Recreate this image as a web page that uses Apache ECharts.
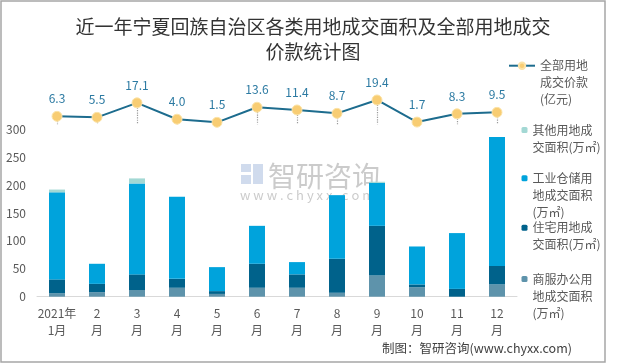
<!DOCTYPE html>
<html><head><meta charset="utf-8">
<script src="https://cdn.jsdelivr.net/npm/echarts@6/dist/echarts.min.js"></script>
<style>html,body{margin:0;padding:0;background:#fff}#c{width:620px;height:364px}</style>
</head><body><div id="c"></div>
<script>
const months = ['2021年\n1月','2\n月','3\n月','4\n月','5\n月','6\n月','7\n月','8\n月','9\n月','10\n月','11\n月','12\n月'];
const commercial = [6, 8, 12, 16, 5, 16, 16, 7, 38, 17, 0, 22];
const residential = [25, 15, 28, 16, 5, 43, 24, 61, 89, 5, 14, 33];
const industrial = [156, 36, 163, 147, 43, 68, 22, 114, 77, 68, 100, 231];
const other = [5, 0, 9, 0, 0, 0, 0, 0, 2, 0, 0, 0];
const price = [6.3, 5.5, 17.1, 4.0, 1.5, 13.6, 11.4, 8.7, 19.4, 1.7, 8.3, 9.5];
const yTicks = [0, 300, 50];

const FONT = '"Noto Sans CJK SC","Noto Sans",sans-serif';
const names = {
  price: '全部用地成交价款(亿元)',
  other: '其他用地成交面积(万㎡)',
  ind: '工业仓储用地成交面积(万㎡)',
  res: '住宅用地成交面积(万㎡)',
  com: '商服办公用地成交面积(万㎡)'
};
const legendLines = {};
legendLines[names.price] = ['全部用地', '成交价款', '(亿元)'];
legendLines[names.other] = ['其他用地成', '交面积(万㎡)'];
legendLines[names.ind] = ['工业仓储用', '地成交面积', '(万㎡)'];
legendLines[names.res] = ['住宅用地成', '交面积(万㎡)'];
legendLines[names.com] = ['商服办公用', '地成交面积', '(万㎡)'];

function mkLegend(name, left, iconY, isLine) {
  const lh = 17;
  const n = legendLines[name].length;
  const N = 2 * n - 1;
  return {
    orient: 'vertical', left: left, top: iconY - N * lh / 2, padding: 0,
    itemWidth: isLine ? 26 : 6, itemHeight: isLine ? 8 : 6,
    data: [name],
    formatter: nm => '\n'.repeat(n - 1) + legendLines[nm].join('\n'),
    textStyle: { fontFamily: FONT, fontSize: 12, color: '#595959', lineHeight: lh }
  };
}

const C = { com: '#5E93AB', res: '#00628B', ind: '#00A3DC', other: '#A3D8D4', line: '#1D6C8E', marker: '#F8CD73' };

const drops = price.map((v, i) => [{ coord: [i, v] }, { coord: [i, 0] }]);

const option = {
  animation: false,
  title: {
    text: '近一年宁夏回族自治区各类用地成交面积及全部用地成交\n价款统计图',
    left: 308, top: 9, textAlign: 'center',
    textStyle: { fontFamily: FONT, fontSize: 19, fontWeight: 'normal', color: '#333333', lineHeight: 25 }
  },
  legend: [
    mkLegend(names.price, 508, 65.7, true),
    mkLegend(names.other, 521.5, 130, false),
    mkLegend(names.ind, 521.5, 178.3, false),
    mkLegend(names.res, 521.5, 227.7, false),
    mkLegend(names.com, 521.5, 279, false)
  ],
  grid: [
    { left: 37, right: 103, top: 129.3, bottom: 67.3 },
    { left: 37, right: 103, top: 93, height: 31.2 }
  ],
  xAxis: [
    { type: 'category', gridIndex: 0, data: months,
      axisLine: { lineStyle: { color: '#d9d9d9' } },
      axisTick: { length: 5, lineStyle: { color: '#d9d9d9' } },
      axisLabel: { fontFamily: FONT, fontSize: 12, color: '#595959', lineHeight: 17, margin: 8, interval: 0 } },
    { type: 'category', gridIndex: 1, data: months, show: false }
  ],
  yAxis: [
    { type: 'value', gridIndex: 0, min: yTicks[0], max: yTicks[1], interval: yTicks[2],
      splitLine: { show: false }, axisLine: { show: false }, axisTick: { show: false },
      axisLabel: { fontFamily: FONT, fontSize: 12, color: '#595959', margin: 11 } },
    { type: 'value', gridIndex: 1, min: 0, max: 25, show: false, splitLine: { show: false } }
  ],
  series: [
    { name: names.com, type: 'bar', stack: 'a', barWidth: 16, data: commercial, itemStyle: { color: C.com } },
    { name: names.res, type: 'bar', stack: 'a', data: residential, itemStyle: { color: C.res } },
    { name: names.ind, type: 'bar', stack: 'a', data: industrial, itemStyle: { color: C.ind } },
    { name: names.other, type: 'bar', stack: 'a', data: other, itemStyle: { color: C.other } },
    { name: names.price, type: 'line', xAxisIndex: 1, yAxisIndex: 1, data: price,
      symbol: 'circle', symbolSize: 10, z: 5,
      lineStyle: { color: C.line, width: 2 },
      itemStyle: { color: C.marker, borderColor: '#FBE3A8', borderWidth: 1 },
      label: { show: true, position: 'top', distance: 6, formatter: p => p.value.toFixed(1),
        fontFamily: FONT, fontSize: 12, color: '#2C7AA2' },
      markLine: { silent: true, symbol: ['none', 'none'], label: { show: false },
        lineStyle: { type: 'dotted', color: '#9a9a9a', width: 1.2 }, data: drops, z: 1 }
    }
  ],
  graphic: [
    { type: 'rect', shape: { x: 1, y: 1, width: 604, height: 361 }, style: { fill: 'none', stroke: '#a6a6a6', lineWidth: 1.5 }, z: 100 },
    { type: 'group', z: 50, children: [
      { type: 'rect', shape: { x: 241, y: 164, width: 10, height: 8 }, style: { fill: 'rgba(150,175,215,0.45)' } },
      { type: 'rect', shape: { x: 241, y: 175, width: 10, height: 9 }, style: { fill: 'rgba(150,175,215,0.45)' } },
      { type: 'rect', shape: { x: 253, y: 164, width: 10, height: 20 }, style: { fill: 'rgba(150,175,215,0.45)' } },
      { type: 'text', style: { x: 268, y: 176, text: '智研咨询', font: '28px ' + FONT, fill: 'rgba(140,140,140,0.45)', textVerticalAlign: 'middle' } },
      { type: 'text', style: { x: 240, y: 195, text: 'w w w . c h y x x . c o m', font: '13px ' + FONT, fill: 'rgba(140,140,140,0.45)', textVerticalAlign: 'middle' } }
    ] },
    { type: 'text', right: 48, top: 342, style: { text: '制图：智研咨询(www.chyxx.com)', font: '12.5px ' + FONT, fill: '#404040' } }
  ]
};
const chart = echarts.init(document.getElementById('c'), null, { renderer: 'canvas' });
chart.setOption(option);
</script></body></html>
